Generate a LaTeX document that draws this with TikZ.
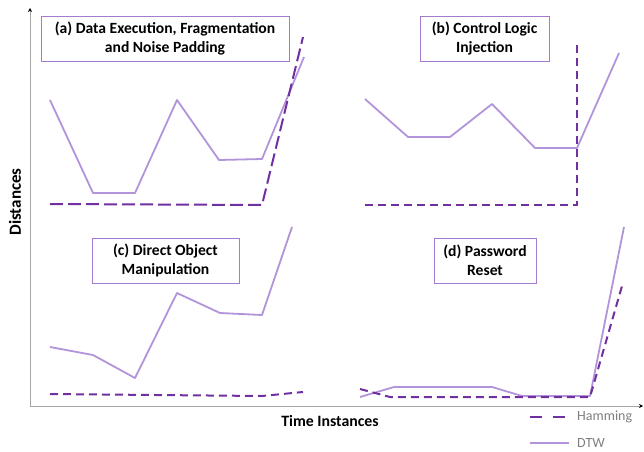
\documentclass[tikz,border=0pt]{standalone}
\usepackage{fontspec}
\setmainfont{Carlito}
\usepackage{tikz}
\usetikzlibrary{arrows.meta,positioning}
\definecolor{darkpurple}{HTML}{7030A0}
\definecolor{lightpurple}{HTML}{B294DA}
\definecolor{boxpurple}{HTML}{A47CCF}
\definecolor{axisgray}{HTML}{A6A6A6}
\definecolor{legendgray}{HTML}{7F7F7F}

\begin{document}
\begin{tikzpicture}[x=1pt,y=1pt,
			titlebox/.style={draw=boxpurple,thick,fill=white,font=\fontsize{15.6}{19}\selectfont\bfseries,minimum height=45pt,inner sep=2pt,align=center},
			dtw/.style={draw=lightpurple,line width=1.8pt,line join=round},
			hamming/.style={draw=darkpurple,line width=2pt,dash pattern=on 8pt off 5pt},
			axislabel/.style={font=\fontsize{15.8}{18}\selectfont\bfseries}
			]
			\useasboundingbox (0,0) rectangle (644,451);
			% axes
			\coordinate (o) at (30,45);
			\coordinate (ytop) at (30,443);
			\coordinate (xend) at (643,45);
			\draw[axisgray,thick,-{Stealth[black,length=4pt,width=4pt]}] (o) -- (ytop);
			\draw[axisgray,thick,-{Stealth[black,length=4pt,width=4pt]}] (o) -- (xend);
			\node[axislabel] (xlab) at (330,30) {Time Instances};
			\node[axislabel,font=\fontsize{17}{19}\selectfont\bfseries,rotate=90] (ylab) at (15,249) {Distances};
			% (a)
			\draw[dtw] (50,351) -- (93,258) -- (135,258) -- (177,351) -- (219,291) -- (262,292) -- (304,394);
			\draw[hamming,dash pattern=on 13pt off 5pt] (50,247) -- (262,246) -- (303,414);
			\node[titlebox,minimum width=248pt] (ta) at (165,412.5) {(a) Data Execution, Fragmentation\\and Noise Padding};
			% (b)
			\draw[dtw] (365,352) -- (408,314) -- (450,314) -- (492,347) -- (535,303) -- (577,303) -- (619,398);
			\draw[hamming] (365,246) -- (577,246) -- (577,409);
			\node[titlebox,minimum width=129pt] (tb) at (484.5,412.5) {(b) Control Logic\\Injection};
			% (c)
			\draw[dtw] (50,104) -- (93,96) -- (135,73) -- (177,158) -- (220,138) -- (262,136) -- (292,224);
			\draw[hamming] (50,57) -- (262,55) -- (303,59);
			\node[titlebox,minimum width=147pt] (tc) at (165.5,190.5) {(c) Direct Object\\Manipulation};
			% (d)
			\draw[dtw] (360,54) -- (394,64) -- (492,64) -- (522,55) -- (590,55) -- (624,224);
			\draw[hamming] (360,62) -- (390,54) -- (590,54) -- (622,165);
			\node[titlebox,minimum width=102pt] (td) at (485,190.5) {(d) Password\\Reset};
			% legend
			\coordinate (lh) at (530,34);
			\coordinate (ld) at (530,8);
			\node[font=\fontsize{14}{16}\selectfont,text=legendgray,anchor=west,inner sep=0pt] (lht) at (577,34) {Hamming};
			\node[font=\fontsize{14}{16}\selectfont,text=legendgray,anchor=west,inner sep=0pt] (ldt) at (577,8) {DTW};
			\draw[hamming,line width=2.6pt,dash pattern=on 12pt off 11pt] (lh) -- ([xshift=-8pt]lht.west);
			\draw[dtw] (ld) -- ([xshift=-8pt]ldt.west);
		\end{tikzpicture}
\end{document}
